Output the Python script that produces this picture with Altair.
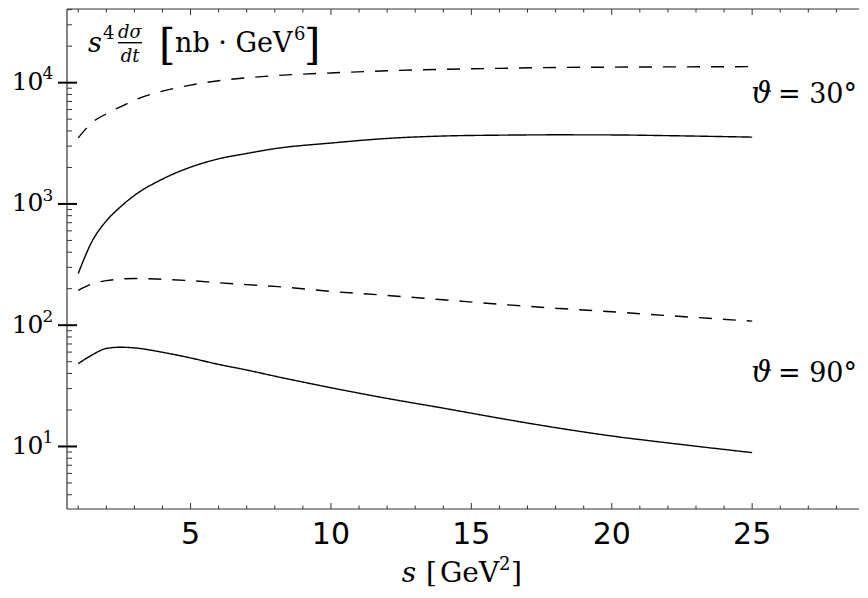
import altair as alt
import pandas as pd

# ---- data ----
s_vals = [1, 1.5, 2, 2.5, 3, 4, 5, 6, 7, 8, 10, 12, 14, 16, 18, 20, 22, 25]
theta30_solid = [267, 495, 724, 944, 1175, 1603, 2009, 2355, 2606, 2858, 3177, 3467, 3631, 3690, 3715, 3707, 3656, 3556]
theta30_dashed = [3508, 4700, 5534, 6310, 7178, 8511, 9550, 10375, 10965, 11429, 12023, 12531, 12882, 13122, 13335, 13428, 13490, 13552]
theta90_dashed = [194, 220, 233, 240, 243, 239, 233, 224, 216, 209, 190, 176, 162, 149, 138, 129, 120, 108]
theta90_solid = [48.2, 56.9, 64.3, 65.8, 65.0, 59.8, 53.7, 47.5, 42.7, 38.0, 30.5, 24.9, 20.7, 17.1, 14.3, 12.2, 10.7, 8.9]

x_ticks_minor = [1, 2, 3, 4, 6, 7, 8, 9, 11, 12, 13, 14, 16, 17, 18, 19, 21, 22, 23, 24, 26, 27, 28]
x_ticks_major = [5, 10, 15, 20, 25]
x_tick_labels = ["5", "10", "15", "20", "25"]
y_ticks_major = [10, 100, 1000, 10000]
y_tick_bases = ["10", "10", "10", "10"]
y_tick_exponents = ["1", "2", "3", "4"]
y_ticks_minor = [4, 5, 6, 7, 8, 9,
                 20, 30, 40, 50, 60, 70, 80, 90,
                 200, 300, 400, 500, 600, 700, 800, 900,
                 2000, 3000, 4000, 5000, 6000, 7000, 8000, 9000,
                 20000, 30000, 40000]

rows = []
for name, vals, style in [("30s", theta30_solid, "solid"), ("30d", theta30_dashed, "dashed"),
                          ("90s", theta90_solid, "solid"), ("90d", theta90_dashed, "dashed")]:
    for s, v in zip(s_vals, vals):
        rows.append({"s": s, "v": v, "curve": name, "style": style})
df = pd.DataFrame(rows)

W, H = 792, 500
SERIF = "DejaVu Serif"
SANS = "DejaVu Sans"
AX = "#333333"

xs = alt.Scale(domain=[0.6, 28.805], nice=False, zero=False)
ys = alt.Scale(type="log", domain=[3.05, 40500], nice=False)


def one():
    return pd.DataFrame({"k": [0]})


lines = alt.Chart(df).mark_line(color="black", strokeWidth=1.4, interpolate="monotone").encode(
    x=alt.X("s:Q", scale=xs, axis=None),
    y=alt.Y("v:Q", scale=ys, axis=None),
    detail="curve:N",
    strokeDash=alt.StrokeDash("style:N", scale=alt.Scale(domain=["solid", "dashed"], range=[[1, 0], [13, 11]]), legend=None),
)

frame = alt.Chart(one()).mark_rule(color=AX, strokeWidth=1.2)
left_line = frame.encode(x=alt.value(0), y=alt.value(0), y2=alt.value(H))
bottom_line = frame.encode(x=alt.value(0), x2=alt.value(W), y=alt.value(H))
top_line = frame.encode(x=alt.value(0), x2=alt.value(W), y=alt.value(0))

xmin_df = pd.DataFrame({"s": x_ticks_minor})
xmaj_df = pd.DataFrame({"s": x_ticks_major, "label": x_tick_labels})
xenc = alt.X("s:Q", scale=xs, axis=None)
bot_minor = alt.Chart(xmin_df).mark_rule(color=AX, strokeWidth=1).encode(x=xenc, y=alt.value(H), y2=alt.value(H - 3.5))
bot_major = alt.Chart(xmaj_df).mark_rule(color=AX, strokeWidth=1).encode(x=xenc, y=alt.value(H), y2=alt.value(H - 6))
top_minor = alt.Chart(xmin_df).mark_rule(color=AX, strokeWidth=1).encode(x=xenc, y=alt.value(0), y2=alt.value(3.5))
top_major = alt.Chart(xmaj_df).mark_rule(color=AX, strokeWidth=1).encode(x=xenc, y=alt.value(0), y2=alt.value(6))
x_labels = alt.Chart(xmaj_df).mark_text(font=SANS, fontSize=30, align="center", baseline="alphabetic", color="black").encode(
    x=xenc, y=alt.value(535), text="label:N")

ymaj_df = pd.DataFrame({"v": y_ticks_major, "base": y_tick_bases, "exp": y_tick_exponents})
ymin_df = pd.DataFrame({"v": y_ticks_minor})
yenc = alt.Y("v:Q", scale=ys, axis=None)
y_major = alt.Chart(ymaj_df).mark_rule(color="black", strokeWidth=2).encode(y=yenc, x=alt.value(-9), x2=alt.value(10))
y_minor = alt.Chart(ymin_df).mark_rule(color=AX, strokeWidth=1).encode(y=yenc, x=alt.value(0), x2=alt.value(5))
y_base = alt.Chart(ymaj_df).mark_text(font=SERIF, fontSize=25, align="right", baseline="alphabetic", dy=7.4, color="black").encode(
    y=yenc, x=alt.value(-23.5), text="base:N")
y_exp = alt.Chart(ymaj_df).mark_text(font=SERIF, fontSize=17, align="left", baseline="alphabetic", dy=-3.4, color="black").encode(
    y=yenc, x=alt.value(-24.5), text="exp:N")


def txt(text, x, y, size, italic=False, align="left"):
    return alt.Chart(one()).mark_text(
        text=text, font=SERIF, fontSize=size, align=align, baseline="alphabetic",
        fontStyle="italic" if italic else "normal", color="black",
    ).encode(x=alt.value(x), y=alt.value(y))


frac_bar = alt.Chart(one()).mark_rule(color="black", strokeWidth=1.4).encode(
    x=alt.value(51), x2=alt.value(75), y=alt.value(33.7))

annotations = [
    txt("s", 21, 43, 27, italic=True),
    txt("4", 36, 29.5, 18),
    txt("dσ", 63, 29, 18, italic=True, align="center"),
    frac_bar,
    txt("dt", 63, 52.7, 18, italic=True, align="center"),
    txt("[", 92, 50, 42),
    txt("nb · GeV", 108, 42.7, 27),
    txt("6", 227, 31, 18),
    txt("]", 237, 50, 42),
    txt("ϑ", 705, 94.3, 29, italic=True, align="right"),
    txt("= 30°", 790, 94.3, 27, align="right"),
    txt("ϑ", 705, 372.7, 29, italic=True, align="right"),
    txt("= 90°", 790, 372.7, 27, align="right"),
    txt("s", 334.7, 573, 28, italic=True),
    txt("[", 359, 573, 28),
    txt("GeV", 373, 573, 28),
    txt("2", 432, 561, 18),
    txt("]", 444, 573, 28),
]

chart = alt.layer(
    lines, left_line, bottom_line, top_line,
    bot_minor, bot_major, top_minor, top_major, x_labels,
    y_major, y_minor, y_base, y_exp,
    *annotations,
).properties(
    width=W, height=H,
    padding={"left": 59, "top": 1, "right": 1, "bottom": 81},
    autosize=alt.AutoSizeParams(type="none"),
).configure_view(stroke=None)

chart.save("out.html", embed_options={"renderer": "svg", "actions": False})
